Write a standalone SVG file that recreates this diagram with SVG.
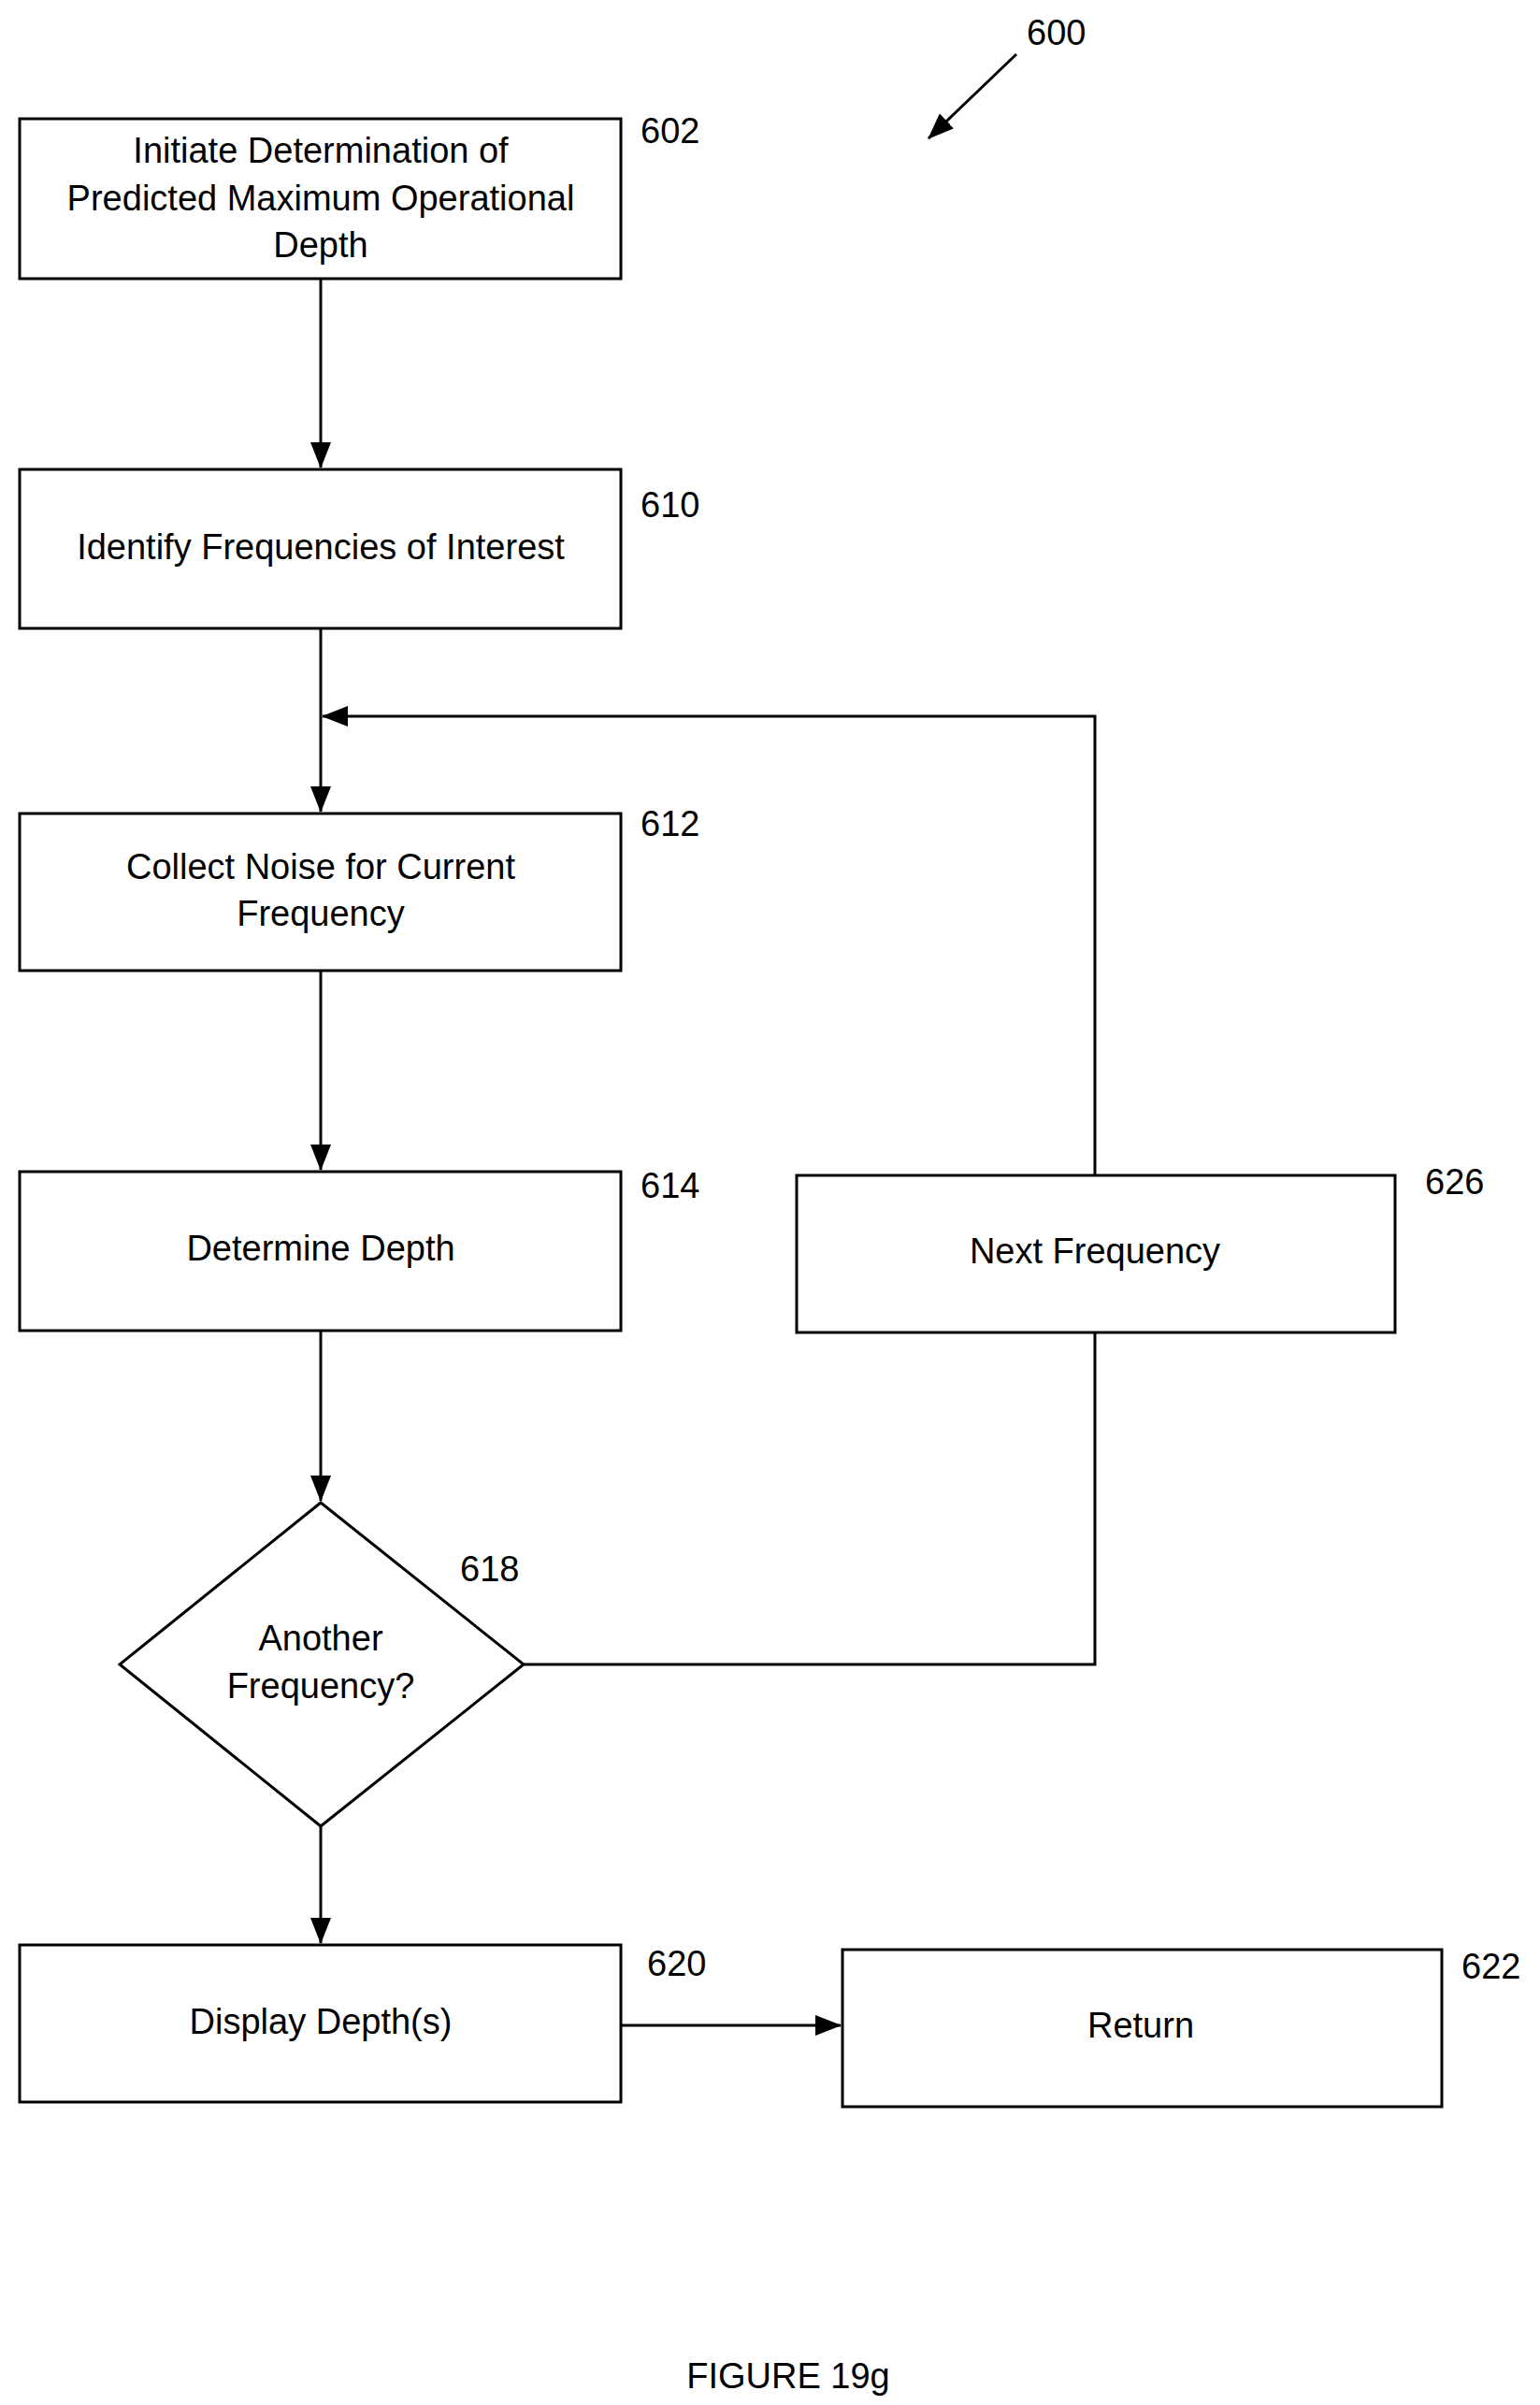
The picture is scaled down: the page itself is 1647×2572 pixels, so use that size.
<svg xmlns="http://www.w3.org/2000/svg" width="1647" height="2572" viewBox="0 0 1647 2572">
<style>
.b{fill:#fff;stroke:#000;stroke-width:3}
.t{font-family:"Liberation Sans",Arial,sans-serif;font-size:38px;text-anchor:middle;dominant-baseline:central}
.l{font-family:"Liberation Sans",Arial,sans-serif;font-size:38px;dominant-baseline:central}
.c{fill:none;stroke:#000;stroke-width:3}
</style>
<defs><marker id="a" markerWidth="12" markerHeight="12" refX="11" refY="6" orient="auto" markerUnits="userSpaceOnUse" viewBox="0 0 12 12"><path d="M0,0L12,6L0,12z"/></marker>
<marker id="a2" markerWidth="28" markerHeight="22" refX="27" refY="11" orient="auto" markerUnits="userSpaceOnUse" viewBox="0 0 28 22"><path d="M0,0L28,11L0,22z"/></marker></defs>
<g id="connectors">
<line class="c" x1="343" y1="298" x2="343" y2="500" marker-end="url(#a2)"/>
<line class="c" x1="343" y1="672" x2="343" y2="868" marker-end="url(#a2)"/>
<polyline class="c" points="1171,1257 1171,766 345,766" marker-end="url(#a2)"/>
<line class="c" x1="343" y1="1038" x2="343" y2="1251" marker-end="url(#a2)"/>
<line class="c" x1="343" y1="1423" x2="343" y2="1605" marker-end="url(#a2)"/>
<polyline class="c" points="560,1780 1171,1780 1171,1425"/>
<line class="c" x1="343" y1="1953" x2="343" y2="2078" marker-end="url(#a2)"/>
<line class="c" x1="664" y1="2166" x2="899" y2="2166" marker-end="url(#a2)"/>
<line class="c" x1="1087" y1="58" x2="993" y2="148" marker-end="url(#a2)"/>
</g>
<g id="n602"><rect class="b" x="21" y="127" width="643" height="171"/><text class="t" x="343" y="161">Initiate Determination of</text><text class="t" x="343" y="212">Predicted Maximum Operational</text><text class="t" x="343" y="262">Depth</text><text class="l" x="685" y="140">602</text></g>
<g id="n610"><rect class="b" x="21" y="502" width="643" height="170"/><text class="t" x="343" y="585">Identify Frequencies of Interest</text><text class="l" x="685" y="540">610</text></g>
<g id="n612"><rect class="b" x="21" y="870" width="643" height="168"/><text class="t" x="343" y="927">Collect Noise for Current</text><text class="t" x="343" y="977">Frequency</text><text class="l" x="685" y="881">612</text></g>
<g id="n614"><rect class="b" x="21" y="1253" width="643" height="170"/><text class="t" x="343" y="1335">Determine Depth</text><text class="l" x="685" y="1268">614</text></g>
<g id="n626"><rect class="b" x="852" y="1257" width="640" height="168"/><text class="t" x="1171" y="1338">Next Frequency</text><text class="l" x="1524" y="1264">626</text></g>
<g id="n618"><polygon class="b" points="343,1607 560,1780 343,1953 128,1780"/><text class="t" x="343" y="1752">Another</text><text class="t" x="343" y="1803">Frequency?</text><text class="l" x="492" y="1678">618</text></g>
<g id="n620"><rect class="b" x="21" y="2080" width="643" height="168"/><text class="t" x="343" y="2162">Display Depth(s)</text><text class="l" x="692" y="2100">620</text></g>
<g id="n622"><rect class="b" x="901" y="2085" width="641" height="168"/><text class="t" x="1220" y="2166">Return</text><text class="l" x="1563" y="2103">622</text></g>
<text class="l" x="1098" y="35">600</text>
<text class="t" x="843" y="2541">FIGURE 19g</text>
</svg>
